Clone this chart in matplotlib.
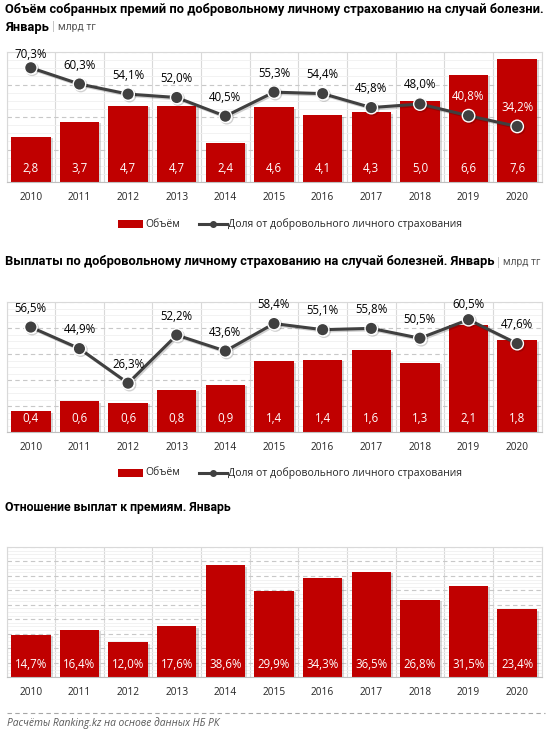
import numpy as np
import matplotlib
matplotlib.use("Agg")
import matplotlib.pyplot as plt
import matplotlib.patheffects as pe
from matplotlib.lines import Line2D
from matplotlib.patches import Rectangle

plt.rcParams['font.family'] = ['Open Sans', 'DejaVu Sans']
TITLE_FONT = ['Roboto', 'Open Sans', 'DejaVu Sans']

# ---------------- data ----------------
years = ['2010', '2011', '2012', '2013', '2014', '2015', '2016', '2017', '2018', '2019', '2020']
prem_volume = [2.8, 3.7, 4.7, 4.7, 2.4, 4.6, 4.1, 4.3, 5.0, 6.6, 7.6]
prem_share = [70.3, 60.3, 54.1, 52.0, 40.5, 55.3, 54.4, 45.8, 48.0, 40.8, 34.2]
pay_volume = [0.40, 0.59, 0.56, 0.81, 0.91, 1.36, 1.39, 1.57, 1.33, 2.06, 1.76]
pay_share = [56.5, 44.9, 26.3, 52.2, 43.6, 58.4, 55.1, 55.8, 50.5, 60.5, 47.6]
ratio = [14.7, 16.4, 12.0, 17.6, 38.6, 29.9, 34.3, 36.5, 26.8, 31.5, 23.4]

title1a = 'Объём собранных премий по добровольному личному страхованию на случай болезни.'
title1b = 'Январь'
title2 = 'Выплаты по добровольному личному страхованию на случай болезней. Январь'
title3 = 'Отношение выплат к премиям. Январь'
unit = 'млрд тг'
legend_bar = 'Объём'
legend_line = 'Доля от добровольного личного страхования'
footer = 'Расчёты Ranking.kz на основе данных НБ РК'

W, H = 553, 730
RED = '#C00000'
LINE = '#404040'
GRID = '#d9d9d9'

fig = plt.figure(figsize=(W / 100, H / 100), dpi=100)
renderer = fig.canvas.get_renderer()

def fx(px):
    return px / W

def fy(py):
    return 1 - py / H

def comma(v, dec=1, pct=False):
    s = f"{v:.{dec}f}".replace('.', ',')
    return s + ('%' if pct else '')

def setup_axes(top, bottom, ymax, major, minor):
    ax = fig.add_axes([fx(6.5), fy(bottom), fx(535), (bottom - top) / H])
    ax.set_xlim(-0.5, len(years) - 0.5)
    ax.set_ylim(0, ymax)
    ax.set_xticks(range(len(years)))
    ax.set_xticklabels(years, fontsize=7.3, color='#262626')
    ax.set_xticks(np.arange(-0.5, len(years), 1), minor=True)
    ax.set_yticks(np.arange(0, ymax + 1e-9, major))
    ax.set_yticks(np.arange(0, ymax + 1e-9, minor), minor=True)
    ax.tick_params(axis='both', which='both', length=0)
    ax.tick_params(axis='x', pad=7)
    ax.set_yticklabels([])
    ax.yaxis.set_tick_params(which='minor', labelleft=False)
    ax.xaxis.grid(True, which='minor', color=GRID, lw=0.8)
    ax.yaxis.grid(True, which='minor', color='#f0f0f0', lw=0.6)
    ax.yaxis.grid(True, which='major', color='#c8c8c8', lw=0.8, ls=(0, (4, 3)))
    ax.set_axisbelow(True)
    for s in ax.spines.values():
        s.set_color(GRID)
        s.set_linewidth(0.8)
    ax.spines['bottom'].set_color('#bfbfbf')
    return ax

shadow = [pe.SimplePatchShadow(offset=(1.5, -1.0), shadow_rgbFace='#808080', alpha=0.3), pe.Normal()]

def draw_bars(ax, vals, labels, ymax, height_px):
    ax.bar(range(len(vals)), vals, width=0.81, color=RED, zorder=2, path_effects=shadow)
    for i, lab in enumerate(labels):
        ax.annotate(lab, xy=(i, 0), xytext=(0, 13 * 0.72), textcoords='offset points',
                    ha='center', va='center', color='white', fontsize=8.3, zorder=5)

def draw_line(ax, bars, shares, ymax1, ymax2, height_px):
    ax2 = ax.twinx()
    ax2.set_ylim(0, ymax2)
    ax2.set_axis_off()
    ax2.plot(range(len(shares)), shares, color=LINE, lw=2.2, marker='o', ms=9,
             mfc=LINE, mec='white', mew=1.0, zorder=3,
             path_effects=[pe.SimpleLineShadow(offset=(1.0, -1.0), alpha=0.18), pe.Normal()])
    for i, v in enumerate(shares):
        mk = v / ymax2 * height_px
        lab = min(mk + 19, height_px - 2)
        bar_top = bars[i] / ymax1 * height_px
        col = 'white' if lab < bar_top - 6 else 'black'
        ax2.annotate(comma(v, 1, True), xy=(i, v), xytext=(0, (lab - mk) * 0.72),
                     textcoords='offset points', ha='center', va='center',
                     color=col, fontsize=8.3, zorder=6)
    return ax2

def draw_legend(ypx):
    fig.add_artist(Rectangle((fx(118), fy(ypx + 4)), fx(25), 8 / H, transform=fig.transFigure,
                             color=RED, lw=0))
    fig.text(fx(145), fy(ypx), legend_bar, fontsize=7.5, va='center', ha='left', color='#262626')
    fig.add_artist(Line2D([fx(199), fx(227)], [fy(ypx), fy(ypx)], transform=fig.transFigure,
                          color=LINE, lw=2.2, marker=None))
    fig.add_artist(Line2D([fx(213)], [fy(ypx)], transform=fig.transFigure,
                          color=LINE, marker='o', ms=4, mfc=LINE, mec=LINE))
    fig.text(fx(228), fy(ypx), legend_line, fontsize=7.5, va='center', ha='left', color='#262626')

def fit_text(x, y, s, width_px, **kw):
    t = fig.text(fx(x), fy(y), s, va='center', ha='left', **kw)
    w = t.get_window_extent(renderer).width
    t.set_fontsize(t.get_fontsize() * width_px / w)
    return t

def follow(prev, s, gap=0, **kw):
    bb = prev.get_window_extent(renderer)
    x = bb.x1 + gap
    y = prev.get_position()[1]
    return fig.text(x / W, y, s, va='center', ha='left', **kw)

# ---------------- titles ----------------
t1 = fit_text(5, 10, title1a, 541, fontsize=10, fontweight='bold', color='black', family=TITLE_FONT)
fs_title = t1.get_fontsize()
t1b = fig.text(fx(5), fy(27), title1b, va='center', ha='left', fontsize=fs_title,
               fontweight='bold', color='black', family=TITLE_FONT)
p1 = follow(t1b, ' | ', fontsize=fs_title * 0.95, color='#bfbfbf', family=TITLE_FONT)
follow(p1, unit, fontsize=fs_title * 0.8, color='#595959', family=TITLE_FONT)

t2 = fit_text(5, 262, title2, 489, fontsize=10, fontweight='bold', color='black', family=TITLE_FONT)
p2 = follow(t2, ' | ', fontsize=t2.get_fontsize() * 0.95, color='#bfbfbf', family=TITLE_FONT)
follow(p2, unit, fontsize=t2.get_fontsize() * 0.8, color='#595959', family=TITLE_FONT)

fit_text(5, 508, title3, 226, fontsize=10, fontweight='bold', color='black', family=TITLE_FONT)

# ---------------- chart 1 ----------------
ax1 = setup_axes(52, 182, 8, 2, 0.5)
draw_bars(ax1, prem_volume, [comma(v) for v in prem_volume], 8, 130)
draw_line(ax1, prem_volume, prem_share, 8, 80, 130)
draw_legend(224)

# ---------------- chart 2 ----------------
ax2 = setup_axes(302, 432, 2.5, 0.5, 0.125)
draw_bars(ax2, pay_volume, [comma(v) for v in pay_volume], 2.5, 130)
draw_line(ax2, pay_volume, pay_share, 2.5, 70, 130)
draw_legend(473)

# ---------------- chart 3 ----------------
ax3 = setup_axes(547, 677, 45, 5, 1.25)
draw_bars(ax3, ratio, [comma(v, 1, True) for v in ratio], 45, 130)

# ---------------- footer ----------------
fig.add_artist(Line2D([fx(7), fx(545)], [fy(713), fy(713)], transform=fig.transFigure,
                      color='#a6a6a6', lw=0.8, ls=(0, (4, 3))))
fig.text(fx(7), fy(723), footer, fontsize=7.4, style='italic', color='#595959',
         va='center', ha='left')

fig.savefig('out.png', dpi=100)
